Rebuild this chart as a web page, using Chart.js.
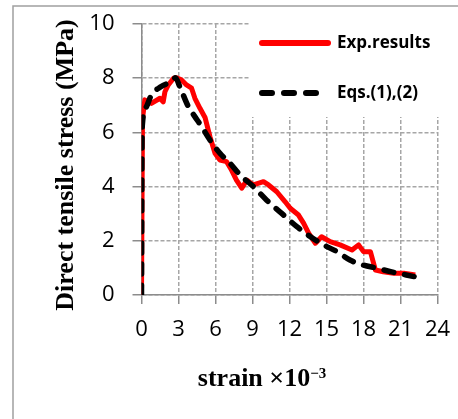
<!DOCTYPE html>
<html>
<head>
<meta charset="utf-8">
<script src="https://cdn.jsdelivr.net/npm/chart.js@4.4.1/dist/chart.umd.min.js"></script>
<style>
  html, body { margin: 0; padding: 0; background: #fff; }
  #wrap { position: relative; width: 458px; height: 419px; }
</style>
</head>
<body>
<div id="wrap"><canvas id="stressChart" width="458" height="419"></canvas></div>
<script>
// measured stress-strain curve
const expStrain = [0, 0.08, 0.27, 0.8, 1.5, 1.76, 1.9, 2.17, 2.6, 2.85, 3.25, 3.65, 4.06, 4.33, 4.74, 5.15,
  5.55, 5.96, 6.36, 6.9, 7.3, 7.7, 8.13, 8.54, 9.07, 9.89, 10.3, 10.97, 11.65, 12.06, 12.73, 13.14,
  13.55, 14.1, 14.6, 15.3, 16.1, 17.07, 17.6, 18.0, 18.56, 18.97, 19.6, 20.46, 21.27, 22.2];
const expStress = [0, 6.5, 7.2, 7.07, 7.26, 7.13, 7.5, 7.75, 8.0, 8.02, 7.93, 7.75, 7.63, 7.26, 6.89, 6.55,
  5.84, 5.23, 4.98, 4.92, 4.61, 4.24, 3.94, 4.24, 4.06, 4.18, 4.06, 3.81, 3.44, 3.2, 2.95, 2.65,
  2.28, 1.91, 2.15, 1.97, 1.85, 1.66, 1.85, 1.6, 1.6, 0.92, 0.86, 0.8, 0.8, 0.74];

// model curve, Eqs.(1),(2)
const eqStrain = [0, 0.03, 0.08, 0.4, 0.8, 1.6, 2.57, 2.75, 3.1, 3.8, 4.3, 4.88, 5.55, 6.36, 7.18, 8.0,
  9.07, 10.15, 11.37, 12.6, 13.7, 14.76, 15.85, 16.9, 18.0, 19.1, 20.2, 22.1];
const eqStress = [0, 5.0, 6.34, 6.95, 7.38, 7.69, 7.93, 8.02, 7.69, 6.95, 6.6, 6.21, 5.72, 5.23, 4.86, 4.43,
  4.0, 3.5, 3.01, 2.52, 2.15, 1.85, 1.6, 1.29, 1.1, 0.99, 0.86, 0.68];

const xTicks = [0, 3, 6, 9, 12, 15, 18, 21, 24];
const yTicks = [0, 2, 4, 6, 8, 10];
const seriesNames = ['Exp.results', 'Eqs.(1),(2)'];

const toPoints = (xs, ys) => xs.map((x, i) => ({ x, y: ys[i] }));

const gridColor = '#a6a6a6';
const axisColor = '#8c8c8c';
const tickFont = { family: 'Open Sans', size: 22 };
const titleFont = 'bold 26px "Liberation Serif"';

// outer frame, legend box and axis titles
const decorations = {
  id: 'decorations',
  beforeDraw(chart) {
    const ctx = chart.ctx;
    ctx.save();
    ctx.fillStyle = '#fff';
    ctx.fillRect(0, 0, chart.width, chart.height);
    ctx.strokeStyle = '#a0a0a0';
    ctx.lineWidth = 1.5;
    ctx.strokeRect(13, 6, 470, 430);
    ctx.restore();
  },
  beforeDatasetsDraw(chart) {
    const ctx = chart.ctx;
    ctx.save();
    ctx.fillStyle = '#fff';
    ctx.fillRect(249, 12, 215, 105);

    ctx.lineWidth = 6;
    ctx.lineCap = 'round';
    ctx.strokeStyle = '#ff0000';
    ctx.beginPath();
    ctx.moveTo(262, 43);
    ctx.lineTo(328, 43);
    ctx.stroke();

    ctx.strokeStyle = '#000';
    ctx.setLineDash([10, 12]);
    ctx.beginPath();
    ctx.moveTo(262, 93);
    ctx.lineTo(328, 93);
    ctx.stroke();
    ctx.setLineDash([]);

    ctx.fillStyle = '#000';
    ctx.font = 'bold 17px "Open Sans"';
    ctx.textBaseline = 'middle';
    ctx.fillText(seriesNames[0], 337, 43);
    ctx.fillText(seriesNames[1], 337, 93);
    ctx.restore();
  },
  afterDraw(chart) {
    const ctx = chart.ctx;
    ctx.save();
    ctx.fillStyle = '#000';

    // y axis title
    ctx.textBaseline = 'middle';
    ctx.translate(66, 165);
    ctx.rotate(-Math.PI / 2);
    ctx.font = titleFont;
    ctx.textAlign = 'center';
    ctx.fillText('Direct tensile stress (MPa)', 0, 0);
    ctx.setTransform(1, 0, 0, 1, 0, 0);

    // x axis title with superscript exponent
    const base = 'strain \u00d710';
    const sup = '\u22123';
    ctx.textBaseline = 'alphabetic';
    ctx.font = titleFont;
    const wBase = ctx.measureText(base).width;
    ctx.font = 'bold 15px "Liberation Serif"';
    const wSup = ctx.measureText(sup).width;
    const x0 = 262 - (wBase + wSup) / 2;
    ctx.textAlign = 'left';
    ctx.font = titleFont;
    ctx.fillText(base, x0, 386);
    ctx.font = 'bold 15px "Liberation Serif"';
    ctx.fillText(sup, x0 + wBase, 378);
    ctx.restore();
  }
};

new Chart(document.getElementById('stressChart'), {
  type: 'line',
  data: {
    datasets: [
      {
        label: seriesNames[1],
        data: toPoints(eqStrain, eqStress),
        borderColor: '#000',
        borderWidth: 5.5,
        borderDash: [10, 11],
        borderCapStyle: 'round',
        cubicInterpolationMode: 'monotone',
        pointRadius: 0,
        fill: false
      },
      {
        label: seriesNames[0],
        data: toPoints(expStrain, expStress),
        borderColor: '#ff0000',
        borderWidth: 5,
        borderJoinStyle: 'round',
        tension: 0,
        pointRadius: 0,
        fill: false
      }
    ]
  },
  options: {
    responsive: false,
    animation: false,
    devicePixelRatio: 1,
    layout: { padding: { top: 24, right: 20.5, left: 0, bottom: 0 } },
    plugins: {
      legend: { display: false },
      tooltip: { enabled: false }
    },
    scales: {
      x: {
        type: 'linear',
        min: 0,
        max: 24,
        afterBuildTicks: (scale) => { scale.ticks = xTicks.map(v => ({ value: v })); },
        afterFit: (scale) => { scale.height = 124; scale.paddingLeft = 0; scale.paddingRight = 0; },
        ticks: { color: '#000', font: tickFont, padding: 13, maxRotation: 0 },
        grid: {
          color: gridColor,
          lineWidth: 1.5,
          tickLength: 9,
          tickColor: axisColor,
          tickWidth: 1.5,
          tickBorderDash: []
        },
        border: { display: true, color: axisColor, width: 1.5, dash: [4, 2] }
      },
      y: {
        type: 'linear',
        min: 0,
        max: 10,
        afterBuildTicks: (scale) => { scale.ticks = yTicks.map(v => ({ value: v })); },
        afterFit: (scale) => { scale.width = 141.5; scale.paddingTop = 0; scale.paddingBottom = 0; },
        ticks: { color: '#000', font: tickFont, padding: 18 },
        grid: {
          color: gridColor,
          lineWidth: 1.5,
          tickLength: 9,
          tickColor: axisColor,
          tickWidth: 1.5,
          tickBorderDash: []
        },
        border: { display: true, color: axisColor, width: 1.5, dash: [4, 2] }
      }
    }
  },
  plugins: [decorations]
});
</script>
</body>
</html>
